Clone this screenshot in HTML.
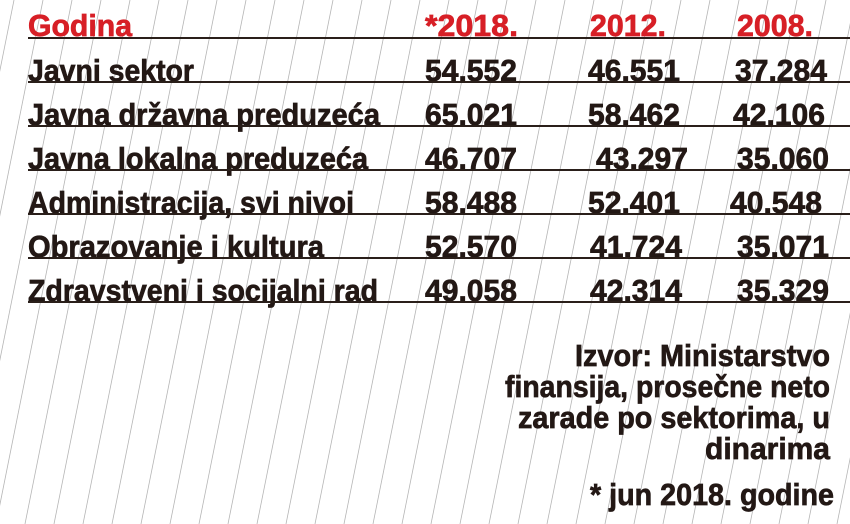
<!DOCTYPE html>
<html><head><meta charset="utf-8"><style>
html,body{margin:0;padding:0;background:#fff;}
svg{display:block;}
text{font-family:"Liberation Sans",sans-serif;font-weight:bold;}
</style></head><body>
<svg id="chart" width="850" height="524" viewBox="0 0 850 524" xmlns="http://www.w3.org/2000/svg">
<g id="hatch"></g>
<g id="tbl"></g>
<g fill="#231815" stroke="#231815" stroke-width="0.7" font-size="31" text-anchor="end" lengthAdjust="spacingAndGlyphs">
<text x="830" y="366" textLength="255" lengthAdjust="spacingAndGlyphs">Izvor: Ministarstvo</text>
<text x="830" y="397" textLength="325" lengthAdjust="spacingAndGlyphs">finansija, prosečne neto</text>
<text x="830" y="428" textLength="312" lengthAdjust="spacingAndGlyphs">zarade po sektorima, u</text>
<text x="830" y="459" textLength="125" lengthAdjust="spacingAndGlyphs">dinarima</text>
<text x="834" y="505" textLength="244" lengthAdjust="spacingAndGlyphs">* jun 2018. godine</text>
</g>
</svg>
<script>
const years = ["*2018.", "2012.", "2008."];
const sectors = ["Javni sektor","Javna državna preduzeća","Javna lokalna preduzeća","Administracija, svi nivoi","Obrazovanje i kultura","Zdravstveni i socijalni rad"];
const v2018 = ["54.552","65.021","46.707","58.488","52.570","49.058"];
const v2012 = ["46.551","58.462","43.297","52.401","41.724","42.314"];
const v2008 = ["37.284","42.106","35.060","40.548","35.071","35.329"];
const NS="http://www.w3.org/2000/svg";
const hatch=document.getElementById('hatch');
for(let x=-120;x<950;x+=29){
  const l=document.createElementNS(NS,'line');
  
  
  l.setAttribute('x1',x);l.setAttribute('y1',524);
  l.setAttribute('x2',x+105);l.setAttribute('y2',0);
  l.setAttribute('stroke','#b5b5b5');l.setAttribute('stroke-width','0.8');
  hatch.appendChild(l);
}
const tbl=document.getElementById('tbl');
function txt(s,x,y,fill,len){
  const t=document.createElementNS(NS,'text');
  t.setAttribute('x',x);t.setAttribute('y',y);t.setAttribute('fill',fill);
  t.setAttribute('stroke',fill);t.setAttribute('stroke-width','0.7');
  t.setAttribute('font-size','31');
  if(len){t.setAttribute('textLength',len);t.setAttribute('lengthAdjust','spacingAndGlyphs');}
  t.textContent=s;tbl.appendChild(t);return t;
}
function rule(y,w){
  const l=document.createElementNS(NS,'line');
  
  
  l.setAttribute('x1',28);l.setAttribute('x2',850);l.setAttribute('y1',y);l.setAttribute('y2',y);
  l.setAttribute('stroke','#2a1f1a');l.setAttribute('stroke-width',w);
  tbl.appendChild(l);
}
const colX=[425,588,735];
let h=txt("Godina",28,36,"#d71f26",104);


years.forEach((y,i)=>{
  const t=txt(y,colX[i]+(i==0?0:2),36,"#d71f26",i==0?93:76);
  
  
});
rule(38,2);
const labelW=[166,352,340,326,296,350];
const cols=[v2018,v2012,v2008];
const offs=[[0,0,0],[0,0,-2],[0,8,2],[0,0,-5],[0,2,2],[0,2,2]];
sectors.forEach((s,r)=>{
  const base=81+r*44;
  const t=txt(s,28,base,"#231815",labelW[r]);
  
  
  cols.forEach((c,i)=>{
    const v=txt(c[r],colX[i]+offs[r][i],base,"#231815",92);
    
    
  });
  rule(base+1,2);
});
</script>
</body></html>
